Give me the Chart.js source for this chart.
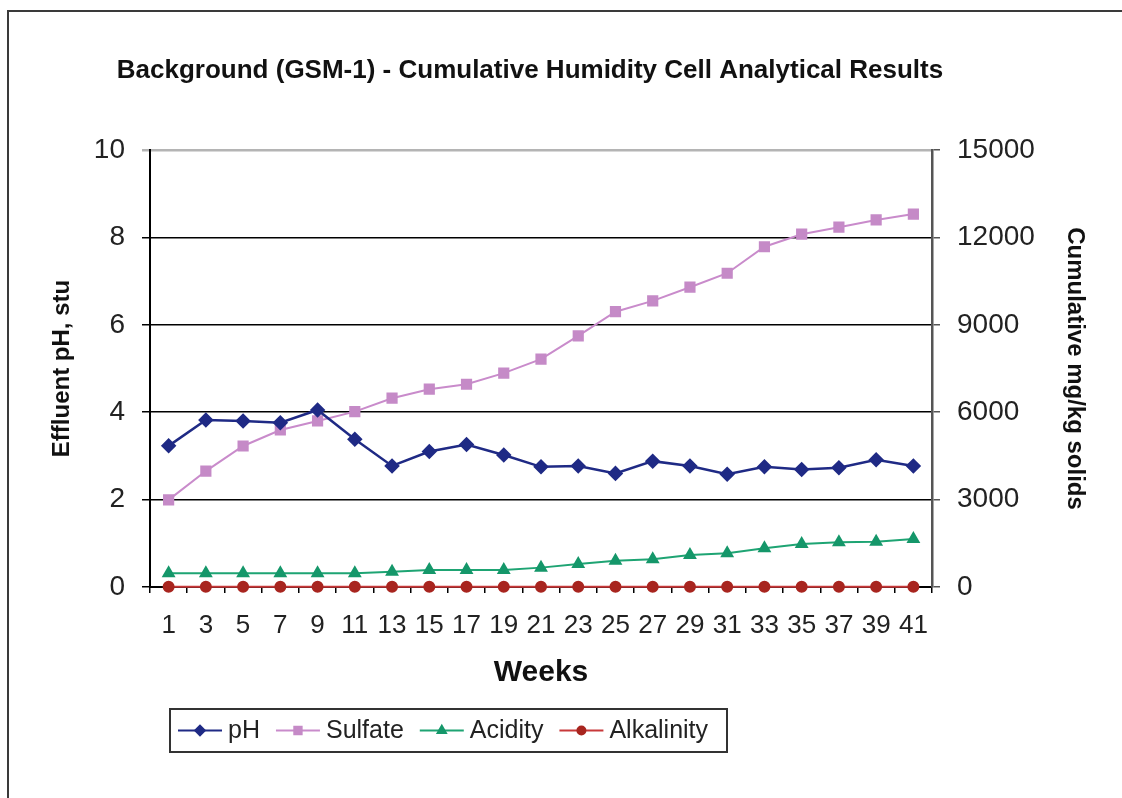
<!DOCTYPE html>
<html>
<head>
<meta charset="utf-8">
<title>Background (GSM-1) - Cumulative Humidity Cell Analytical Results</title>
<script src="https://cdn.jsdelivr.net/npm/chart.js@4.4.0/dist/chart.umd.min.js"></script>
<style>
  html, body { margin: 0; padding: 0; background: #fff; overflow: hidden; }
  #wrap { position: relative; width: 1122px; height: 798px; }
</style>
</head>
<body>
<div id="wrap"><canvas id="chart" width="1122" height="798"></canvas></div>
<script>
// Sampling weeks (every second week)
const weeks = ['1','3','5','7','9','11','13','15','17','19','21','23','25','27','29','31','33','35','37','39','41'];

// Effluent pH, standard units (left axis)
const phValues = [3.23, 3.82, 3.80, 3.76, 4.05, 3.38, 2.77, 3.10, 3.26, 3.02, 2.75, 2.77, 2.60, 2.88, 2.77, 2.58, 2.75, 2.69, 2.73, 2.91, 2.77];

// Cumulative loads, mg/kg solids (right axis)
const sulfateValues = [2990, 3980, 4840, 5390, 5700, 6020, 6480, 6790, 6960, 7340, 7820, 8620, 9450, 9820, 10290, 10770, 11680, 12110, 12350, 12600, 12800];
const acidityValues = [470, 470, 470, 470, 470, 470, 525, 585, 585, 585, 665, 790, 900, 950, 1100, 1155, 1330, 1475, 1535, 1555, 1650];
const alkalinityValues = [12, 12, 12, 12, 12, 12, 12, 12, 12, 12, 12, 12, 12, 12, 12, 12, 12, 12, 12, 12, 12];

// Axis tick values
const phTicks = [0, 2, 4, 6, 8, 10];
const loadTicks = [0, 3000, 6000, 9000, 12000, 15000];

const chartTitle = 'Background (GSM-1) - Cumulative Humidity Cell Analytical Results';

const FONT = '"Liberation Sans", Arial, Helvetica, sans-serif';

// Outer frame of the chart sheet (top and left edges) and the heading
const frame = {
  id: 'frame',
  beforeDraw(chart) {
    const c = chart.ctx;
    c.save();
    c.fillStyle = '#ffffff';
    c.fillRect(0, 0, chart.width, chart.height);
    c.strokeStyle = '#3a3a3a';
    c.lineWidth = 2;
    c.beginPath();
    c.moveTo(8, chart.height);
    c.lineTo(8, 11);
    c.lineTo(chart.width, 11);
    c.stroke();
    c.fillStyle = '#111';
    c.font = 'bold 26px ' + FONT;
    c.textAlign = 'center';
    c.textBaseline = 'middle';
    c.fillText(chartTitle, 530, 71);
    c.restore();
  }
};

// Boxed legend with a line-and-marker sample for each series
const boxedLegend = {
  id: 'boxedLegend',
  afterDraw(chart) {
    const c = chart.ctx;
    const boxX = 170, boxY = 709, boxW = 557, boxH = 43;
    const cy = boxY + boxH / 2;
    c.save();
    c.lineWidth = 2;
    c.strokeStyle = '#333';
    c.strokeRect(boxX, boxY, boxW, boxH);
    c.font = '25px ' + FONT;
    c.textBaseline = 'middle';
    c.textAlign = 'left';
    let x = 178;
    chart.data.datasets.forEach(ds => {
      c.strokeStyle = ds.borderColor;
      c.lineWidth = 2;
      c.beginPath();
      c.moveTo(x, cy);
      c.lineTo(x + 44, cy);
      c.stroke();
      c.fillStyle = ds.pointBackgroundColor;
      c.strokeStyle = ds.pointBorderColor;
      Chart.helpers.drawPoint(c, {
        pointStyle: ds.pointStyle,
        radius: ds.pointRadius * 0.8,
        rotation: 0,
        borderWidth: 1
      }, x + 22, cy);
      c.fillStyle = '#222';
      c.fillText(ds.label, x + 50, cy + 1);
      x += 50 + c.measureText(ds.label).width + 16;
    });
    c.restore();
  }
};

new Chart(document.getElementById('chart'), {
  type: 'line',
  data: {
    labels: weeks,
    datasets: [
      {
        label: 'pH',
        data: phValues,
        yAxisID: 'yPH',
        borderColor: '#1f2a85',
        borderWidth: 2.5,
        pointStyle: 'rectRot',
        pointRadius: 6,
        pointBackgroundColor: '#1f2a85',
        pointBorderColor: '#1f2a85',
        clip: false
      },
      {
        label: 'Sulfate',
        data: sulfateValues,
        yAxisID: 'yLoad',
        borderColor: '#c98bcb',
        borderWidth: 2,
        pointStyle: 'rect',
        pointRadius: 6.5,
        pointBackgroundColor: '#c58ac7',
        pointBorderColor: '#c58ac7',
        clip: false
      },
      {
        label: 'Acidity',
        data: acidityValues,
        yAxisID: 'yLoad',
        borderColor: '#1ea473',
        borderWidth: 2,
        pointStyle: 'triangle',
        pointRadius: 6,
        pointBackgroundColor: '#15976a',
        pointBorderColor: '#15976a',
        clip: false
      },
      {
        label: 'Alkalinity',
        data: alkalinityValues,
        yAxisID: 'yLoad',
        borderColor: '#c8393a',
        borderWidth: 2,
        pointStyle: 'circle',
        pointRadius: 5,
        pointBackgroundColor: '#a8251f',
        pointBorderColor: '#a8251f',
        clip: false
      }
    ]
  },
  options: {
    responsive: false,
    animation: false,
    devicePixelRatio: 1,
    layout: { padding: { left: 0, right: 0, top: 150, bottom: 107 } },
    elements: { line: { tension: 0 } },
    plugins: {
      legend: { display: false },
      tooltip: { enabled: false },
      title: { display: false }
    },
    scales: {
      x: {
        type: 'category',
        offset: true,
        afterFit(scale) { scale.height = 104; },
        border: { display: true, color: '#000', width: 2 },
        grid: { display: true, drawOnChartArea: false, drawTicks: true, tickLength: 6, offset: true, color: '#000', lineWidth: 1.5 },
        ticks: {
          autoSkip: false, maxRotation: 0, minRotation: 0, padding: 17,
          color: '#222', font: { family: FONT, size: 26 }
        },
        title: {
          display: true, text: 'Weeks', color: '#111',
          font: { family: FONT, size: 30, weight: 'bold' },
          padding: { top: 0, bottom: 0 }
        }
      },
      yPH: {
        type: 'linear',
        position: 'left',
        min: 0, max: 10,
        afterFit(scale) { scale.width = 150; },
        afterBuildTicks(scale) { scale.ticks = phTicks.map(v => ({ value: v })); },
        border: { display: true, color: '#000', width: 2 },
        grid: {
          drawOnChartArea: true, drawTicks: true, tickLength: 8,
          color: ctx => (ctx.tick && ctx.tick.value === 10) ? '#b4b4b4' : '#000',
          lineWidth: ctx => (ctx.tick && ctx.tick.value === 10) ? 2.5 : 1.5
        },
        ticks: { padding: 17, color: '#222', font: { family: FONT, size: 28 } },
        title: {
          display: true, text: 'Effluent pH, stu', color: '#111',
          font: { family: FONT, size: 24, weight: 'bold' },
          padding: { top: 48, bottom: 0 }
        }
      },
      yLoad: {
        type: 'linear',
        position: 'right',
        min: 0, max: 15000,
        afterFit(scale) { scale.width = 190; },
        afterBuildTicks(scale) { scale.ticks = loadTicks.map(v => ({ value: v })); },
        border: { display: true, color: '#555', width: 2.5 },
        grid: { drawOnChartArea: false, drawTicks: true, tickLength: 8, color: '#555', lineWidth: 1.5 },
        ticks: {
          padding: 17, color: '#222', font: { family: FONT, size: 28 },
          callback: v => String(v)
        },
        title: {
          display: true, text: 'Cumulative mg/kg solids', color: '#111',
          font: { family: FONT, size: 24, weight: 'bold' },
          padding: { top: 33, bottom: 0 }
        }
      }
    }
  },
  plugins: [frame, boxedLegend]
});
</script>
</body>
</html>
